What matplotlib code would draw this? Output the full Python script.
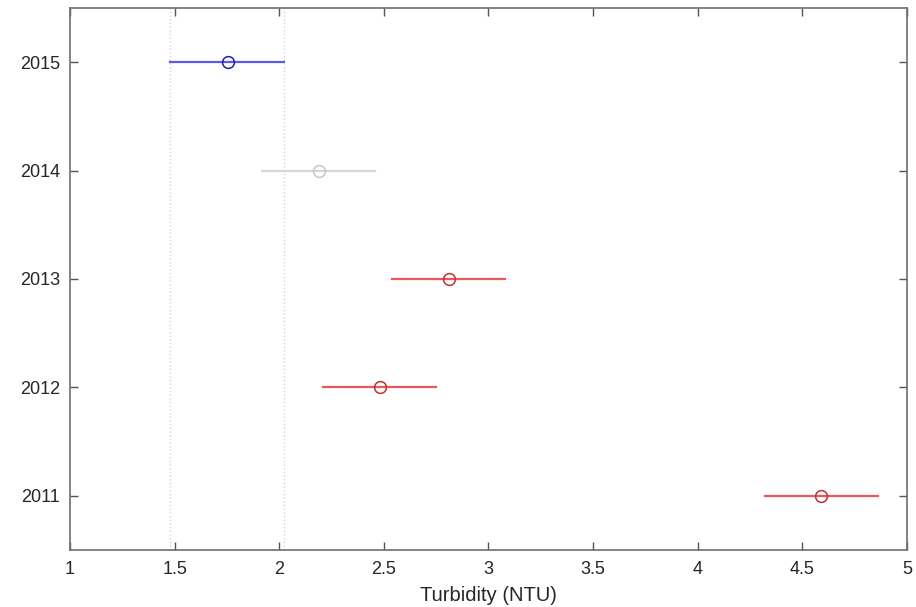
import numpy as np
import matplotlib
matplotlib.use("Agg")
import matplotlib.pyplot as plt

plt.rcParams["font.family"] = ["Liberation Sans", "DejaVu Sans"]

years = [2011, 2012, 2013, 2014, 2015]
means = [4.59, 2.48, 2.81, 2.19, 1.755]
lower = [4.32, 2.21, 2.54, 1.92, 1.48]
upper = [4.86, 2.75, 3.08, 2.46, 2.025]
line_cols = ["#e8585c", "#e8585c", "#e8585c", "#d6d6d6", "#5a5af0"]
edge_cols = ["#c03030", "#c03030", "#c03030", "#c8c8c8", "#2020b0"]

fig = plt.figure(figsize=(9.16, 6.07), dpi=100)
ax = fig.add_axes([0.0764, 0.094, 0.9136, 0.893])

# reference band = 2015 interval
for xv in (lower[-1], upper[-1]):
    ax.axvline(xv, color="#d4d4d4", ls=":", lw=1.0, zorder=1)

for y, m, lo, hi, lc, ec in zip(years, means, lower, upper, line_cols, edge_cols):
    ax.plot([lo, hi], [y, y], color=lc, lw=1.6, zorder=2)
    ax.plot(m, y, "o", ms=8.5, mfc="none", mec=ec, mew=1.1, zorder=3)

ax.set_xlim(1, 5)
ax.set_ylim(2010.5, 2015.5)
ax.set_xticks(np.arange(1, 5.01, 0.5))
ax.set_xticklabels(["1", "1.5", "2", "2.5", "3", "3.5", "4", "4.5", "5"])
ax.set_yticks(years)
ax.set_yticklabels([str(y) for y in years])
ax.tick_params(direction="in", top=True, right=True, length=6, width=1,
               color="#555555", labelsize=13, labelcolor="#262626")
ax.tick_params(axis="x", pad=8)
ax.tick_params(axis="y", pad=7)
for s in ax.spines.values():
    s.set_color("#6e6e6e")
    s.set_linewidth(1.2)
ax.set_xlabel("Turbidity (NTU)", fontsize=14.5, color="#262626", labelpad=6)

fig.savefig("out.png", dpi=100)
